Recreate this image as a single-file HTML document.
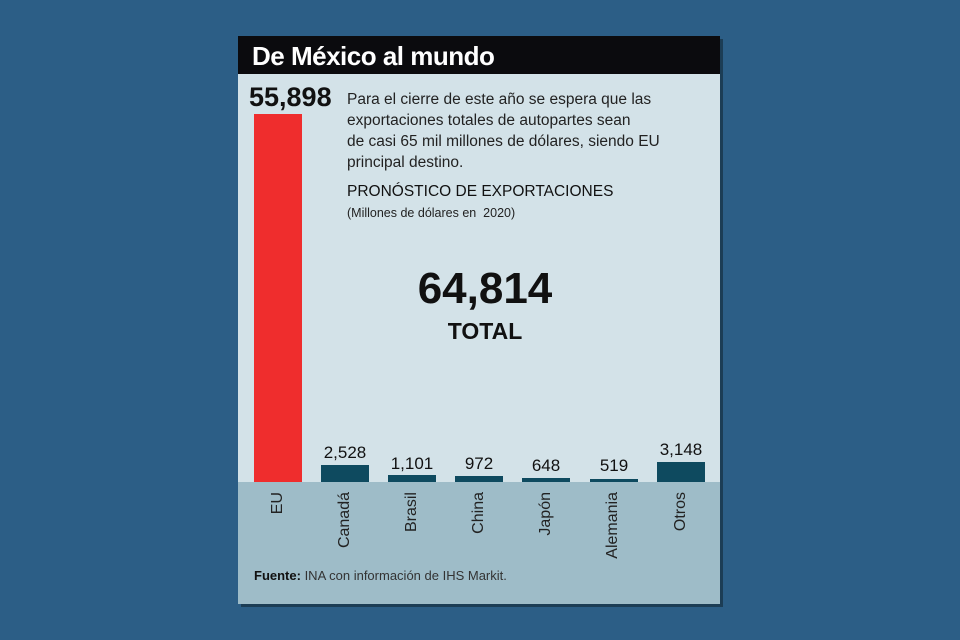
<!DOCTYPE html><html><head><meta charset="utf-8"><style>
body{margin:0;width:960px;height:640px;background:#2c5e86;position:relative;overflow:hidden;font-family:"Liberation Sans",sans-serif;}
.a{position:absolute}
.card{left:238px;top:36px;width:482px;height:568px;background:#d3e2e8;box-shadow:3px 3px 0 #1c3d55;}
.title{left:238px;top:36px;width:482px;height:38px;background:#0b0b0e;color:#fff;font-weight:bold;font-size:26px;line-height:40px;padding-left:14px;box-sizing:border-box;letter-spacing:-0.5px}
.low{left:238px;top:482px;width:482px;height:122px;background:#9ebcc8}
.bar{background:#0e4a5f;width:48px}
.v{font-size:17px;color:#111;width:80px;text-align:center}
.lab{font-size:16px;color:#222;transform-origin:0 0;transform:rotate(-90deg);white-space:nowrap;text-align:right;width:100px}
</style></head><body>
<div class="a card"></div>
<div class="a low"></div>
<div class="a title">De México al mundo</div>
<div class="a" style="left:249px;top:82px;font-size:27px;font-weight:bold;color:#111">55,898</div>
<div class="a" style="left:254px;top:114px;width:48px;height:368px;background:#ef2d2d"></div>
<div class="a" style="left:347px;top:89px;font-size:15.5px;line-height:21px;color:#222">Para el cierre de este año se espera que las<br>exportaciones totales de autopartes sean<br>de casi 65 mil millones de dólares, siendo EU<br>principal destino.</div>
<div class="a" style="left:347px;top:183px;font-size:15.5px;color:#111">PRONÓSTICO DE EXPORTACIONES</div>
<div class="a" style="left:347px;top:206px;font-size:12.5px;color:#222">(Millones de dólares en&nbsp; 2020)</div>
<div class="a" style="left:385px;top:264px;width:200px;text-align:center;font-size:44px;font-weight:bold;color:#111">64,814</div>
<div class="a" style="left:385px;top:318px;width:200px;text-align:center;font-size:23px;font-weight:bold;color:#111">TOTAL</div>
<div class="a bar" style="left:321px;top:465px;height:17px"></div>
<div class="a bar" style="left:388px;top:475px;height:7px"></div>
<div class="a bar" style="left:455px;top:476px;height:6px"></div>
<div class="a bar" style="left:522px;top:478px;height:4px"></div>
<div class="a bar" style="left:590px;top:479px;height:3px"></div>
<div class="a bar" style="left:657px;top:462px;height:20px"></div>
<div class="a v" style="left:305px;top:443px">2,528</div>
<div class="a v" style="left:372px;top:454px">1,101</div>
<div class="a v" style="left:439px;top:454px">972</div>
<div class="a v" style="left:506px;top:456px">648</div>
<div class="a v" style="left:574px;top:456px">519</div>
<div class="a v" style="left:641px;top:440px">3,148</div>
<div class="a lab" style="left:269px;top:592px">EU</div>
<div class="a lab" style="left:336px;top:592px">Canadá</div>
<div class="a lab" style="left:403px;top:592px">Brasil</div>
<div class="a lab" style="left:470px;top:592px">China</div>
<div class="a lab" style="left:537px;top:592px">Japón</div>
<div class="a lab" style="left:604px;top:592px">Alemania</div>
<div class="a lab" style="left:672px;top:592px">Otros</div>
<div class="a" style="left:254px;top:568px;font-size:13px;color:#333"><b style="color:#111">Fuente:</b> INA con información de IHS Markit.</div>
</body></html>
